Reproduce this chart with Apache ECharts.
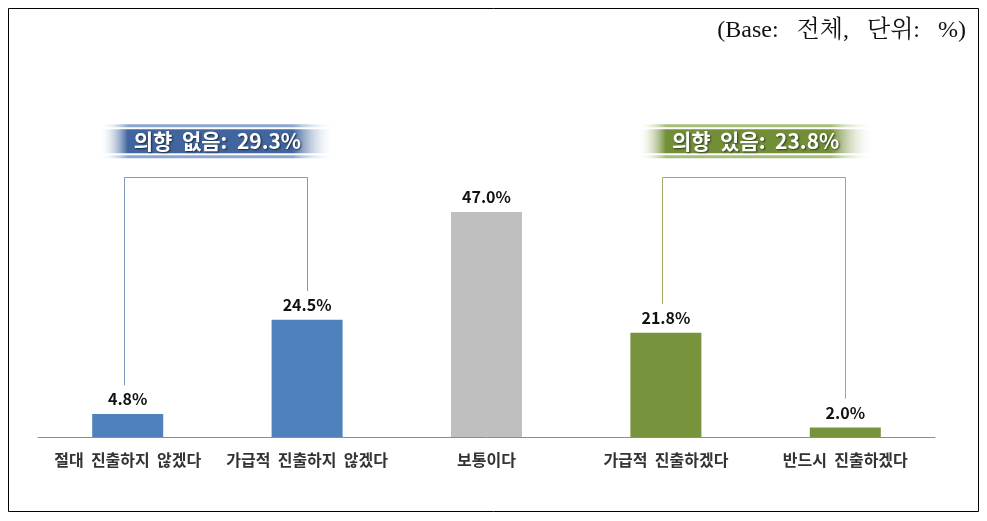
<!DOCTYPE html>
<html><head><meta charset="utf-8">
<script src="https://cdn.jsdelivr.net/npm/echarts@6/dist/echarts.min.js"></script>
<style>html,body{margin:0;padding:0;background:#fff}#c{width:987px;height:521px}</style>
</head><body><div id="c"></div>
<script>
const categories = ['절대  진출하지  않겠다', '가급적  진출하지  않겠다', '보통이다', '가급적  진출하겠다', '반드시  진출하겠다'];
const values = [4.8, 24.5, 47.0, 21.8, 2.0];
const barColors = ['#4F81BD', '#4F81BD', '#BFBFBF', '#77933C', '#77933C'];
const groups = [
  { label: '의향  없음:  29.3%', from: 0, to: 1, line: '#7F9BBF', dark: '#41659E', light: '#8DA8CE' },
  { label: '의향  있음:  23.8%', from: 3, to: 4, line: '#9BB06A', dark: '#728F38', light: '#A9BE7C' }
];
const bracketTop = 54.3;
const bannerCenter = 61.8;
const unitNote = '(Base:   전체,   단위:   %)';

const chart = echarts.init(document.getElementById('c'));
const option = {
  animation: false,
  grid: { left: 38, right: 52, top: 78, bottom: 84 },
  xAxis: {
    type: 'category', data: categories,
    axisLine: { lineStyle: { color: '#8C8C8C', width: 1 } },
    axisTick: { show: false },
    axisLabel: { color: '#333', fontSize: 16, fontWeight: 'bold', margin: 15,
      fontFamily: 'Noto Sans CJK KR', interval: 0 }
  },
  yAxis: { type: 'value', min: 0, max: 75, show: false, splitLine: { show: false } },
  series: [{
    type: 'bar', barWidth: 71,
    data: values.map((v, i) => ({ value: v, itemStyle: { color: barColors[i] } })),
    label: { show: true, position: 'top', distance: 7, formatter: p => p.value.toFixed(1) + '%',
      color: '#111', fontSize: 16, fontWeight: 'bold', fontFamily: 'Noto Sans CJK KR' }
  }]
};
chart.setOption(option);

const px = (c, v) => chart.convertToPixel({ xAxisIndex: 0, yAxisIndex: 0 }, [c, v]);
const elems = [{
  type: 'rect', shape: { x: 8.5, y: 8.5, width: 970, height: 503 },
  style: { fill: 'none', stroke: '#000', lineWidth: 1 }, z: 10
}, {
  type: 'text', right: 21, top: 19,
  style: { text: unitNote, fontSize: 24, fill: '#111', fontFamily: 'Liberation Serif, Noto Serif CJK KR, serif' }
}];
groups.forEach(g => {
  const a = px(g.from, bracketTop), b = px(g.to, bracketTop);
  const aBot = px(g.from, values[g.from] + 6), bBot = px(g.to, values[g.to] + 6);
  elems.push({
    type: 'polyline',
    shape: { points: [[Math.round(a[0]) - 3.5, aBot[1]], [Math.round(a[0]) - 3.5, Math.round(a[1]) + 0.5], [Math.round(b[0]) + 0.5, Math.round(b[1]) + 0.5], [Math.round(b[0]) + 0.5, bBot[1]]] },
    style: { stroke: g.line, lineWidth: 1, fill: 'none' }
  });
  const cx = (a[0] + b[0]) / 2, cy = px(g.from, bannerCenter)[1];
  const w = 236, h = 34;
  const grad = (c) => new echarts.graphic.LinearGradient(0, 0, 1, 0, [
    { offset: 0, color: 'rgba(255,255,255,0)' },
    { offset: 0.12, color: c },
    { offset: 0.82, color: c },
    { offset: 1, color: 'rgba(255,255,255,0)' }
  ]);
  elems.push({ type: 'rect', shape: { x: cx - w / 2, y: cy - h / 2, width: w, height: 3 }, style: { fill: grad(g.light) } });
  elems.push({ type: 'rect', shape: { x: cx - w / 2, y: cy - h / 2 + 5, width: w, height: h - 10 }, style: { fill: grad(g.dark) } });
  elems.push({ type: 'rect', shape: { x: cx - w / 2, y: cy + h / 2 - 3, width: w, height: 3 }, style: { fill: grad(g.light) } });
  elems.push({
    type: 'text', x: cx, y: cy,
    style: { text: g.label, fill: '#fff', fontSize: 21, fontWeight: 'bold', fontFamily: 'Noto Sans CJK KR',
      align: 'center', verticalAlign: 'middle', textShadowColor: 'rgba(0,0,0,0.6)', textShadowBlur: 2, textShadowOffsetX: 1, textShadowOffsetY: 1 }
  });
});
chart.setOption({ graphic: elems });
</script></body></html>
